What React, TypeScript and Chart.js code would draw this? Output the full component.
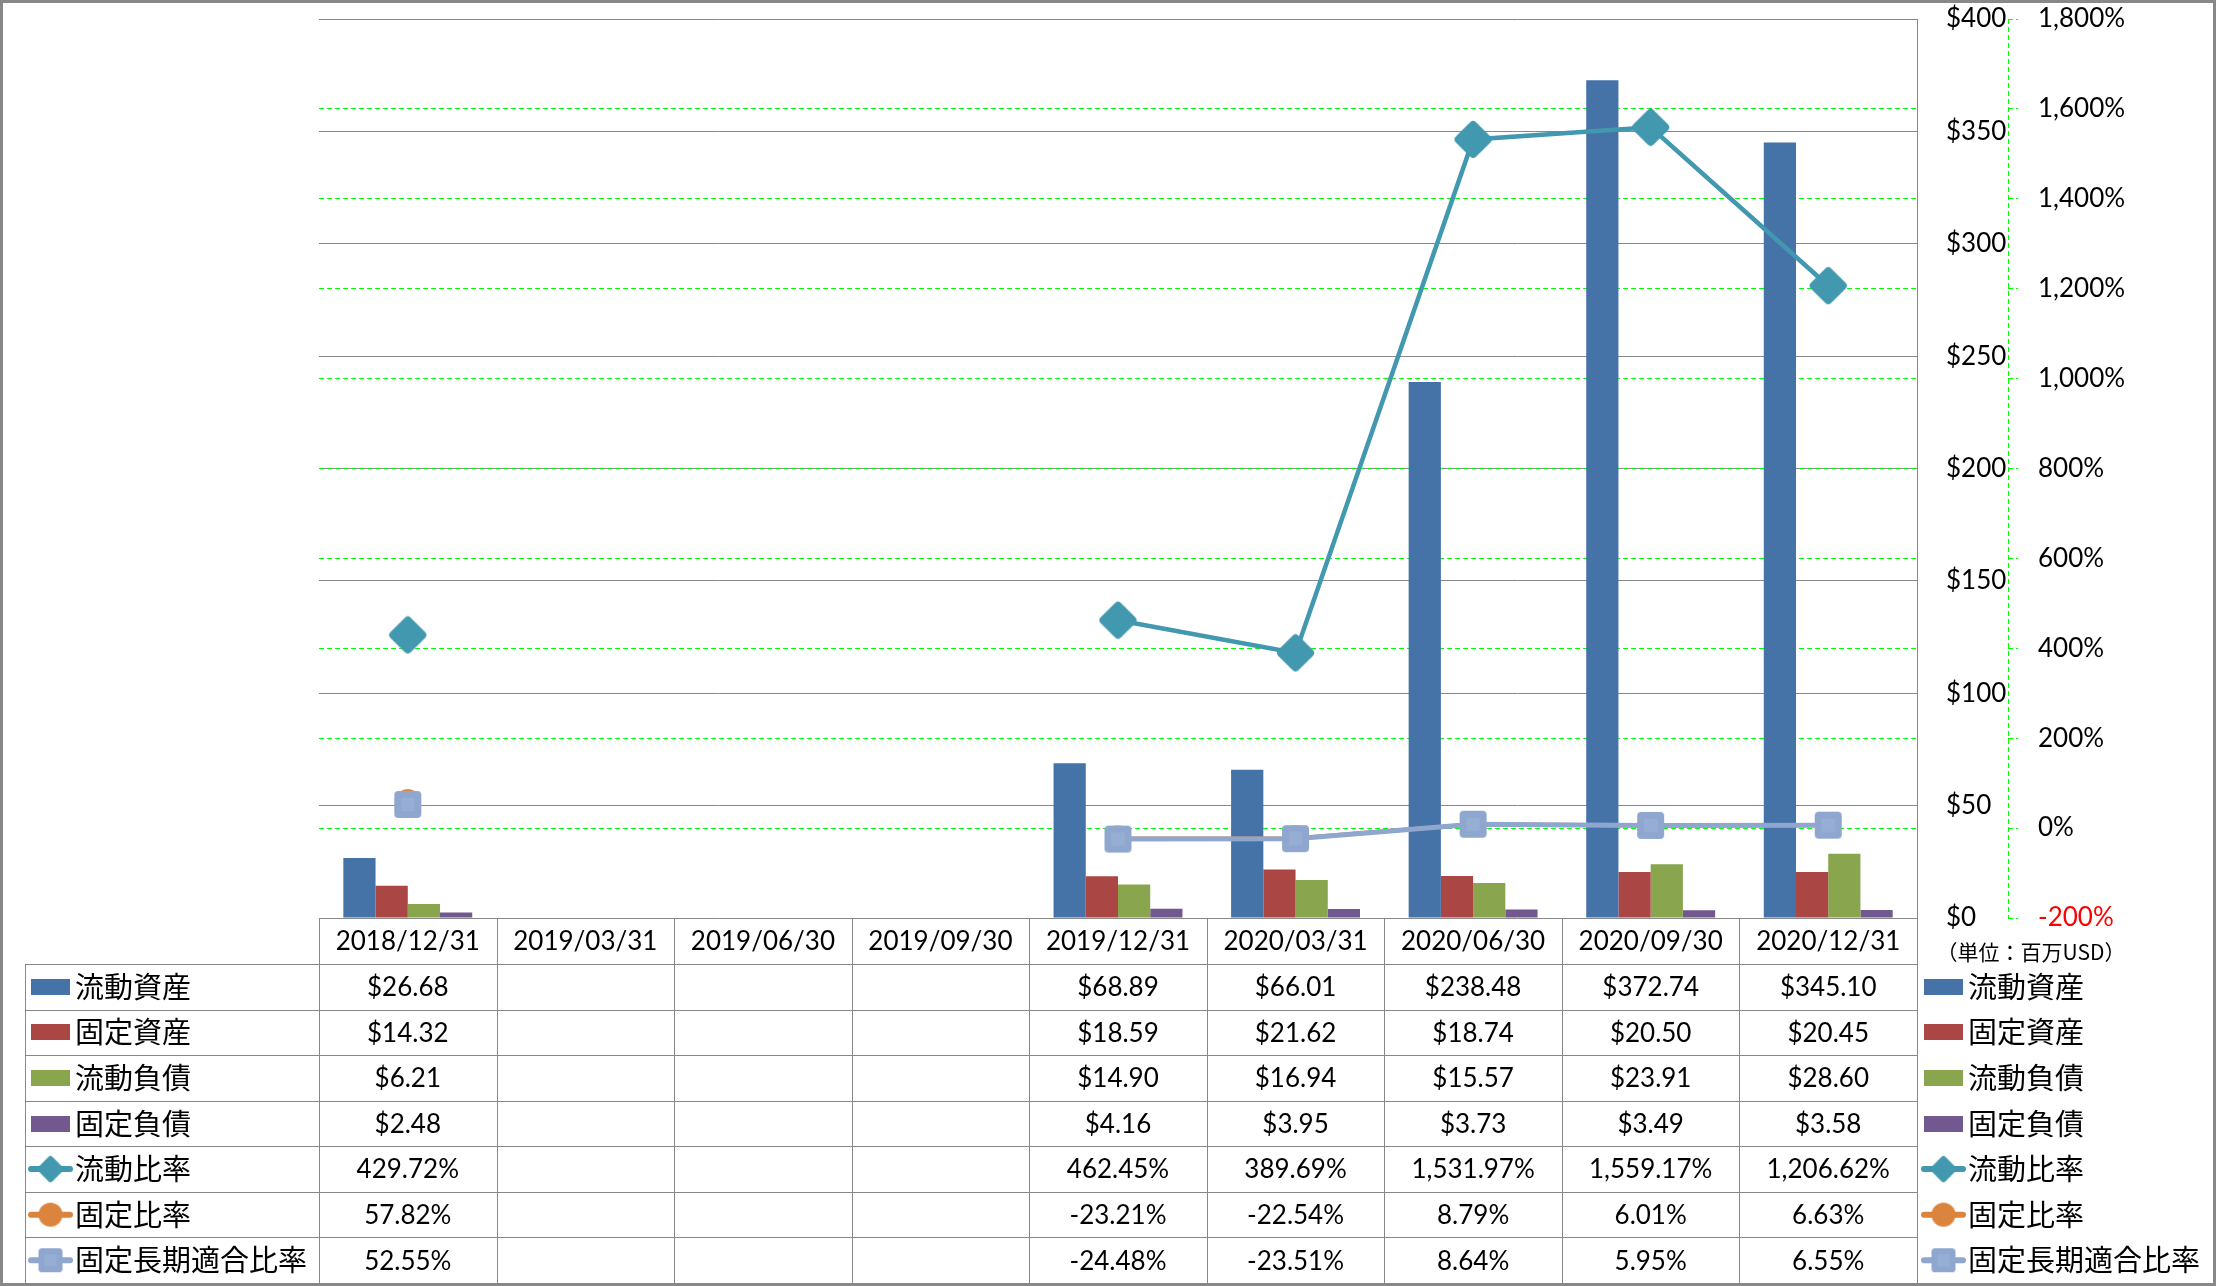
import React, { useEffect, useRef } from 'react';
import { Chart, registerables } from 'chart.js';

Chart.register(...registerables);

// ---------------- data ----------------
const categories = ['2018/12/31', '2019/03/31', '2019/06/30', '2019/09/30', '2019/12/31', '2020/03/31', '2020/06/30', '2020/09/30', '2020/12/31'];
const currentAssets = [26.68, null, null, null, 68.89, 66.01, 238.48, 372.74, 345.1];
const fixedAssets = [14.32, null, null, null, 18.59, 21.62, 18.74, 20.5, 20.45];
const currentLiabilities = [6.21, null, null, null, 14.9, 16.94, 15.57, 23.91, 28.6];
const fixedLiabilities = [2.48, null, null, null, 4.16, 3.95, 3.73, 3.49, 3.58];
const currentRatio = [429.72, null, null, null, 462.45, 389.69, 1531.97, 1559.17, 1206.62];
const fixedRatio = [57.82, null, null, null, -23.21, -22.54, 8.79, 6.01, 6.63];
const fixedLongTermRatio = [52.55, null, null, null, -24.48, -23.51, 8.64, 5.95, 6.55];
const seriesNames = ['流動資産', '固定資産', '流動負債', '固定負債', '流動比率', '固定比率', '固定長期適合比率'];
const amountAxis = [0, 400, 50]; // min, max, step ($ millions)
const ratioAxis = [-200, 1800, 200]; // min, max, step (%)
const unitLabel = '（単位：百万USD）';

// ---------------- styles ----------------
const W = 2216;
const H = 1286;
const COLORS = ['#4572A7', '#AA4643', '#89A54E', '#71588F', '#4198AF', '#DB843D', '#8FA6CF'];
const GRID_GRAY = '#888888';
const GREEN = '#00FF00';
const NUM_FONT = '26px Lato';
const CJK_FONT = '29px "Noto Sans CJK JP"';

function roundRectPath(ctx: CanvasRenderingContext2D, x: number, y: number, w: number, h: number, r: number) {
  ctx.beginPath();
  ctx.moveTo(x + r, y);
  ctx.arcTo(x + w, y, x + w, y + h, r);
  ctx.arcTo(x + w, y + h, x, y + h, r);
  ctx.arcTo(x, y + h, x, y, r);
  ctx.arcTo(x, y, x + w, y, r);
  ctx.closePath();
}

function makeDiamond(extent: number, color: string) {
  const size = Math.ceil(extent * 2) + 2;
  const c = document.createElement('canvas');
  c.width = size;
  c.height = size;
  const ctx = c.getContext('2d')!;
  const r = extent * 0.22;
  const s = 2 * ((extent - r) / Math.SQRT2 + r);
  ctx.translate(size / 2, size / 2);
  ctx.rotate(Math.PI / 4);
  roundRectPath(ctx, -s / 2, -s / 2, s, s, r);
  ctx.fillStyle = color;
  ctx.fill();
  return c;
}

function makeSquare(side: number, color: string, inner: string) {
  const size = Math.ceil(side) + 2;
  const c = document.createElement('canvas');
  c.width = size;
  c.height = size;
  const ctx = c.getContext('2d')!;
  const o = (size - side) / 2;
  roundRectPath(ctx, o, o, side, side, side * 0.15);
  ctx.fillStyle = color;
  ctx.fill();
  const is = side * 0.5;
  ctx.fillStyle = inner;
  ctx.fillRect(size / 2 - is / 2, size / 2 - is / 2, is, is);
  return c;
}

function makeCircle(radius: number, color: string) {
  const size = Math.ceil(radius * 2) + 2;
  const c = document.createElement('canvas');
  c.width = size;
  c.height = size;
  const ctx = c.getContext('2d')!;
  ctx.beginPath();
  ctx.arc(size / 2, size / 2, radius, 0, Math.PI * 2);
  ctx.fillStyle = color;
  ctx.fill();
  return c;
}

const fmt = (v: number) => v.toLocaleString('en-US', { minimumFractionDigits: 2, maximumFractionDigits: 2 });

export default function App() {
  const ref = useRef<HTMLCanvasElement | null>(null);

  useEffect(() => {
    const canvas = ref.current;
    if (!canvas) return;

    const bigMarkers = [
      makeDiamond(18.5, COLORS[4]),
      makeCircle(13, COLORS[5]),
      makeSquare(27, COLORS[6], '#97AED4'),
    ];
    const smallMarkers = [
      makeDiamond(13, COLORS[4]),
      makeCircle(12, COLORS[5]),
      makeSquare(24, COLORS[6], '#97AED4'),
    ];

    const barSeries = [currentAssets, fixedAssets, currentLiabilities, fixedLiabilities];
    const lineSeries = [currentRatio, fixedRatio, fixedLongTermRatio];

    const tablePlugin = {
      id: 'tablePlugin',
      afterDraw(chart: any) {
        const ctx: CanvasRenderingContext2D = chart.ctx;
        const area = chart.chartArea;
        const xs = chart.scales.x;
        const y1 = chart.scales.y1;
        const n = categories.length;
        const colW = (area.right - area.left) / n;
        const top = Math.round(area.bottom);
        const headerH = 46;
        const tableTop = top + headerH;
        const tableBottom = H - 3;
        const rowH = (tableBottom - tableTop) / seriesNames.length;
        const keyLeft = 25;

        ctx.save();
        // dashed ratio-axis line
        ctx.strokeStyle = GREEN;
        ctx.lineWidth = 1;
        ctx.setLineDash([5, 3]);
        const ax = Math.round(y1.left) + 0.5;
        ctx.beginPath();
        ctx.moveTo(ax, area.top);
        ctx.lineTo(ax, area.bottom);
        ctx.stroke();
        ctx.setLineDash([]);

        // table lines
        ctx.strokeStyle = GRID_GRAY;
        ctx.lineWidth = 1;
        ctx.beginPath();
        for (let k = 0; k < seriesNames.length; k++) {
          const y = Math.round(tableTop + k * rowH) + 0.5;
          ctx.moveTo(keyLeft, y);
          ctx.lineTo(area.right, y);
        }
        ctx.moveTo(keyLeft + 0.5, tableTop);
        ctx.lineTo(keyLeft + 0.5, tableBottom);
        for (let j = 0; j <= n; j++) {
          const x = Math.round(area.left + j * colW) + 0.5;
          ctx.moveTo(x, top);
          ctx.lineTo(x, tableBottom);
        }
        ctx.stroke();

        // header labels
        ctx.fillStyle = '#000';
        ctx.textAlign = 'center';
        ctx.textBaseline = 'middle';
        ctx.font = NUM_FONT;
        categories.forEach((c, i) => {
          ctx.fillText(c, xs.getPixelForValue(i), top + headerH / 2 + 1);
        });

        // values
        const allSeries = [...barSeries, ...lineSeries];
        allSeries.forEach((s, k) => {
          const yc = tableTop + (k + 0.5) * rowH + 1;
          s.forEach((v, i) => {
            if (v === null || v === undefined) return;
            const txt = k < 4 ? '$' + fmt(v as number) : fmt(v as number) + '%';
            ctx.fillText(txt, xs.getPixelForValue(i), yc);
          });
        });

        // legend keys (left column and right legend)
        const drawKey = (k: number, x0: number, yc: number) => {
          if (k < 4) {
            ctx.fillStyle = COLORS[k];
            ctx.fillRect(x0 + 3, Math.round(yc - 8), 39, 16);
          } else {
            ctx.strokeStyle = COLORS[k];
            ctx.lineWidth = 6;
            ctx.lineCap = 'round';
            ctx.beginPath();
            ctx.moveTo(x0 + 3, yc);
            ctx.lineTo(x0 + 42, yc);
            ctx.stroke();
            const m = smallMarkers[k - 4];
            ctx.drawImage(m, x0 + 22.5 - m.width / 2, yc - m.height / 2);
          }
        };
        ctx.textAlign = 'left';
        ctx.font = CJK_FONT;
        seriesNames.forEach((name, k) => {
          const yc = tableTop + (k + 0.5) * rowH;
          drawKey(k, 28, yc);
          drawKey(k, area.right + 4, yc);
          ctx.fillStyle = '#000';
          ctx.fillText(name, 75, yc);
          ctx.fillText(name, area.right + 51, yc);
        });

        // unit label
        ctx.font = '21px "Noto Sans CJK JP"';
        ctx.textAlign = 'center';
        ctx.fillStyle = '#000';
        ctx.fillText(unitLabel, 2031, top + 34);

        // outer frame
        ctx.strokeStyle = GRID_GRAY;
        ctx.lineWidth = 3;
        ctx.strokeRect(1.5, 1.5, W - 3, H - 3);
        ctx.restore();
      },
    };

    Chart.defaults.font.family = 'Lato';

    const chart = new Chart(canvas, {
      type: 'bar',
      data: {
        labels: categories,
        datasets: [
          ...barSeries.map((s, k) => ({
            type: 'bar' as const,
            label: seriesNames[k],
            data: s,
            backgroundColor: COLORS[k],
            borderWidth: 0,
            yAxisID: 'y',
            order: 10,
            categoryPercentage: 0.726,
            barPercentage: 1.0,
          })),
          {
            type: 'line' as const,
            label: seriesNames[4],
            data: currentRatio,
            borderColor: COLORS[4],
            backgroundColor: COLORS[4],
            borderWidth: 4.5,
            pointStyle: bigMarkers[0],
            pointRadius: 10,
            yAxisID: 'y1',
            order: 0,
            spanGaps: false,
          },
          {
            type: 'line' as const,
            label: seriesNames[5],
            data: fixedRatio,
            borderColor: COLORS[5],
            backgroundColor: COLORS[5],
            borderWidth: 4,
            pointStyle: bigMarkers[1],
            pointRadius: 10,
            yAxisID: 'y1',
            order: 2,
            spanGaps: false,
          },
          {
            type: 'line' as const,
            label: seriesNames[6],
            data: fixedLongTermRatio,
            borderColor: COLORS[6],
            backgroundColor: COLORS[6],
            borderWidth: 5,
            pointStyle: bigMarkers[2],
            pointRadius: 10,
            yAxisID: 'y1',
            order: 1,
            spanGaps: false,
          },
        ] as any,
      },
      options: {
        responsive: false,
        animation: false,
        devicePixelRatio: 1,
        layout: { padding: { left: 319, top: 19, right: 0, bottom: H - 918 } },
        plugins: { legend: { display: false }, tooltip: { enabled: false } },
        events: [],
        scales: {
          x: { type: 'category', display: false, offset: true },
          y: {
            position: 'right',
            min: amountAxis[0],
            max: amountAxis[1],
            ticks: {
              stepSize: amountAxis[2],
              padding: 29,
              color: '#000',
              font: { family: 'Lato', size: 26 },
              callback: (v: any) => '$' + v,
            },
            grid: { color: GRID_GRAY, drawTicks: false, lineWidth: 1 },
            border: { display: true, color: GRID_GRAY, width: 1 },
            afterFit: (s: any) => {
              s.width = 91;
              s.paddingTop = 0;
              s.paddingBottom = 0;
            },
          },
          y1: {
            position: 'right',
            min: ratioAxis[0],
            max: ratioAxis[1],
            ticks: {
              stepSize: ratioAxis[2],
              padding: 20,
              color: (c: any) => (c.tick && c.tick.value === ratioAxis[0] ? '#FF0000' : '#000000'),
              font: { family: 'Lato', size: 26 },
              callback: (v: any) => Number(v).toLocaleString('en-US') + '%',
            },
            grid: {
              color: (c: any) =>
                c.tick && (c.tick.value === ratioAxis[0] || c.tick.value === ratioAxis[1]) ? 'rgba(0,0,0,0)' : GREEN,
              tickColor: GREEN,
              tickLength: 10,
              tickBorderDash: [5, 3],
              drawTicks: true,
              lineWidth: 1,
            },
            border: { display: false, dash: [5, 3] },
            afterFit: (s: any) => {
              s.width = W - 2008;
              s.paddingTop = 0;
              s.paddingBottom = 0;
            },
          },
        },
      } as any,
      plugins: [tablePlugin],
    });

    return () => chart.destroy();
  }, []);

  return (
    <div style={{ position: 'absolute', left: 0, top: 0, width: W, height: H, background: '#fff' }}>
      <canvas ref={ref} width={W} height={H} style={{ display: 'block', width: W, height: H }} />
    </div>
  );
}
